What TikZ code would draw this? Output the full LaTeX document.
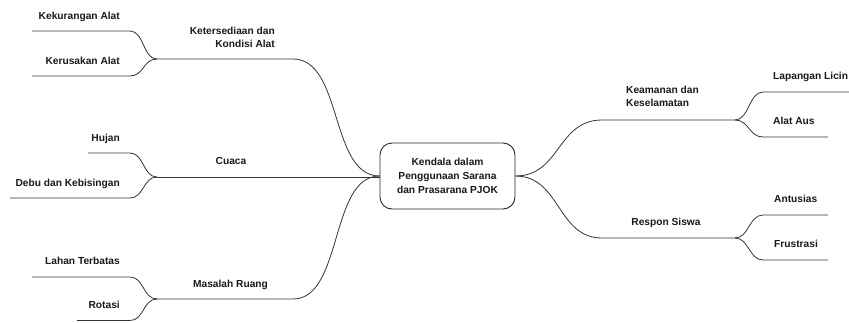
\documentclass[tikz,border=0pt]{standalone}
\usepackage{fontspec}
\setmainfont{Liberation Sans}
\begin{document}
\begin{tikzpicture}[x=1pt, y=-1pt,
    branch/.style={draw=black!80, line width=0.8pt},
    lbl/.style={font=\bfseries\fontsize{10.2}{13}\selectfont, inner sep=0pt, text=black!90}]
    \useasboundingbox (0,0) rectangle (849,322);

    \node[lbl, draw=black!85, line width=0.9pt, rounded corners=12pt, minimum width=135pt, minimum height=66pt, align=center] (root) at (447.5,176) {Kendala dalam\\[1pt]Penggunaan Sarana\\[1pt]dan Prasarana PJOK};

    % left side
    \coordinate (ketS) at (293,59);
    \coordinate (ketJ) at (157,59);
    \coordinate (kekW) at (32,31);
    \coordinate (kekE) at (130,31);
    \coordinate (kerW) at (32,76);
    \coordinate (kerE) at (130,76);
    \coordinate (cuaJ) at (157,177);
    \coordinate (hujW) at (88,153);
    \coordinate (hujE) at (130,153);
    \coordinate (debW) at (10,198);
    \coordinate (debE) at (130,198);
    \coordinate (masS) at (293,299);
    \coordinate (masJ) at (157,299);
    \coordinate (lahW) at (32,277);
    \coordinate (lahE) at (130,277);
    \coordinate (rotW) at (77,320.5);
    \coordinate (rotE) at (130,320.5);
    % right side
    \coordinate (keaS) at (602,120);
    \coordinate (keaJ) at (735,120);
    \coordinate (lapW) at (763,92);
    \coordinate (lapE) at (849,92);
    \coordinate (ausW) at (763,137);
    \coordinate (ausE) at (828,137);
    \coordinate (resS) at (602,238);
    \coordinate (resJ) at (735,238);
    \coordinate (antW) at (763,215);
    \coordinate (antE) at (828,215);
    \coordinate (fruW) at (763,260);
    \coordinate (fruE) at (828,260);

    \draw[branch] (root.west) .. controls +(-50,0) and +(50,0) .. (ketS) -- (ketJ);
    \draw[branch] (kekW) -- (kekE) .. controls +(14,0) and +(-14,0) .. (ketJ);
    \draw[branch] (kerW) -- (kerE) .. controls +(14,0) and +(-14,0) .. (ketJ);
    \draw[branch] (root.west |- cuaJ) -- (cuaJ);
    \draw[branch] (hujW) -- (hujE) .. controls +(14,0) and +(-14,0) .. (cuaJ);
    \draw[branch] (debW) -- (debE) .. controls +(14,0) and +(-14,0) .. (cuaJ);
    \draw[branch] (root.west) .. controls +(-50,0) and +(50,0) .. (masS) -- (masJ);
    \draw[branch] (lahW) -- (lahE) .. controls +(14,0) and +(-14,0) .. (masJ);
    \draw[branch] (rotW) -- (rotE) .. controls +(14,0) and +(-14,0) .. (masJ);

    \draw[branch] (root.east) .. controls +(45,0) and +(-45,0) .. (keaS) -- (keaJ);
    \draw[branch] (keaJ) .. controls +(14,0) and +(-14,0) .. (lapW) -- (lapE);
    \draw[branch] (keaJ) .. controls +(14,0) and +(-14,0) .. (ausW) -- (ausE);
    \draw[branch] (root.east) .. controls +(45,0) and +(-45,0) .. (resS) -- (resJ);
    \draw[branch] (resJ) .. controls +(14,0) and +(-14,0) .. (antW) -- (antE);
    \draw[branch] (resJ) .. controls +(14,0) and +(-14,0) .. (fruW) -- (fruE);

    \node[lbl, anchor=south east, align=right] (ket) at (275,47.5) {Ketersediaan dan\\Kondisi Alat};
    \node[lbl, anchor=base east] (kek) at (120,19) {Kekurangan Alat};
    \node[lbl, anchor=base east] (ker) at (120,64) {Kerusakan Alat};
    \node[lbl, anchor=base] (cua) at (231,164) {Cuaca};
    \node[lbl, anchor=base east] (huj) at (120,141) {Hujan};
    \node[lbl, anchor=base east] (deb) at (120,186) {Debu dan Kebisingan};
    \node[lbl, anchor=base] (mas) at (230.5,287) {Masalah Ruang};
    \node[lbl, anchor=base east] (lah) at (120,264.5) {Lahan Terbatas};
    \node[lbl, anchor=base east] (rot) at (120,308) {Rotasi};

    \node[lbl, anchor=south west, align=left] (kea) at (626,107) {Keamanan dan\\Keselamatan};
    \node[lbl, anchor=base west] (lap) at (773,79) {Lapangan Licin};
    \node[lbl, anchor=base west] (aus) at (773,124) {Alat Aus};
    \node[lbl, anchor=base] (res) at (666,225) {Respon Siswa};
    \node[lbl, anchor=base west] (ant) at (774,202) {Antusias};
    \node[lbl, anchor=base west] (fru) at (774,247) {Frustrasi};
\end{tikzpicture}
\end{document}
